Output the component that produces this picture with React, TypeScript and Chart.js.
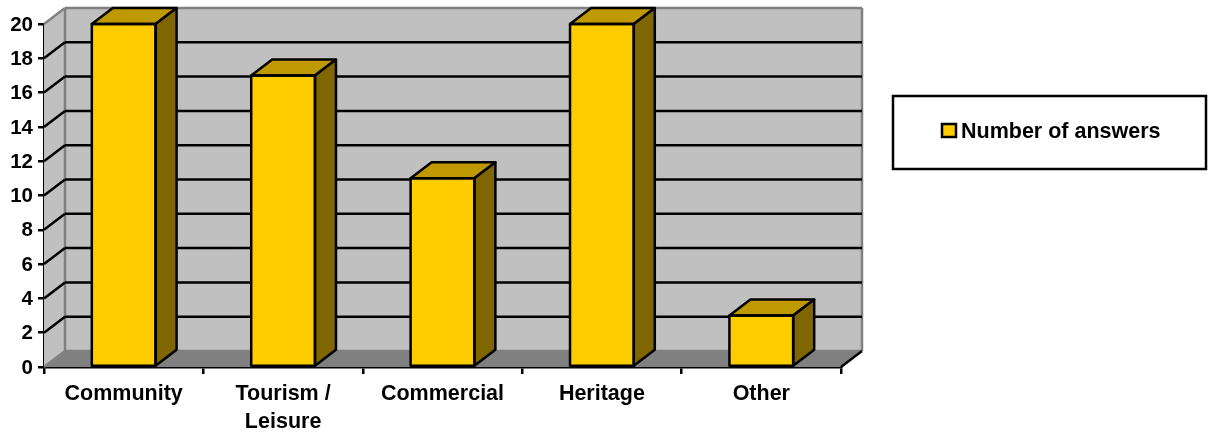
import React, { useEffect, useRef } from "react";
import { Chart, registerables } from "chart.js";

Chart.register(...registerables);

const categories = ["Community", ["Tourism /", "Leisure"], "Commercial", "Heritage", "Other"];
const seriesName = "Number of answers";
const answers = [20, 17, 11, 20, 3];
const yTicks = [0, 2, 4, 6, 8, 10, 12, 14, 16, 18, 20];

const DX = 21;
const DY = -16;
const FONT = "'Liberation Sans', Arial, sans-serif";
const FRONT = "#FFCC00";
const TOP = "#BF9900";
const SIDE = "#806600";
const WALL = "#C0C0C0";
const FLOOR = "#808080";
const EDGE = "#808080";
const INK = "#000000";
const LW = 2.5;

function poly(ctx: CanvasRenderingContext2D, pts: number[][], fill: string | null, stroke: string | null, lw = LW) {
  ctx.beginPath();
  pts.forEach(([x, y], i) => (i ? ctx.lineTo(x, y) : ctx.moveTo(x, y)));
  ctx.closePath();
  if (fill) { ctx.fillStyle = fill; ctx.fill(); }
  if (stroke) { ctx.strokeStyle = stroke; ctx.lineWidth = lw; ctx.lineJoin = "round"; ctx.stroke(); }
}
function seg(ctx: CanvasRenderingContext2D, x1: number, y1: number, x2: number, y2: number, c: string, lw = LW) {
  ctx.beginPath();
  ctx.moveTo(x1, y1);
  ctx.lineTo(x2, y2);
  ctx.strokeStyle = c;
  ctx.lineWidth = lw;
  ctx.stroke();
}

const walls3d = {
  id: "walls3d",
  beforeDatasetsDraw(chart: any) {
    const { ctx, chartArea: a, scales } = chart;
    const y = scales.y;
    const L = a.left, R = a.right, T = y.getPixelForValue(20), B = y.getPixelForValue(0);
    ctx.save();
    poly(ctx, [[L + DX, T + DY], [R + DX, T + DY], [R + DX, B + DY], [L + DX, B + DY]], WALL, null);
    poly(ctx, [[L, T], [L + DX, T + DY], [L + DX, B + DY], [L, B]], WALL, null);
    poly(ctx, [[L, B], [R, B], [R + DX, B + DY], [L + DX, B + DY]], FLOOR, null);
    seg(ctx, L + DX, T + DY, R + DX, T + DY, EDGE);
    seg(ctx, R + DX, T + DY, R + DX, B + DY, EDGE);
    seg(ctx, L + DX, T + DY, L + DX, B + DY, EDGE);
    seg(ctx, L + DX, B + DY, R + DX, B + DY, EDGE);
    seg(ctx, L, T, L + DX, T + DY, EDGE);
    seg(ctx, L, B, L + DX, B + DY, EDGE);
    yTicks.slice(1, -1).forEach((v) => {
      const p = y.getPixelForValue(v);
      seg(ctx, L, p, L + DX, p + DY, INK);
      seg(ctx, L + DX, p + DY, R + DX, p + DY, INK);
    });
    seg(ctx, R, B, R + DX, B + DY, INK);
    ctx.restore();
  },
  afterDatasetsDraw(chart: any) {
    const { ctx } = chart;
    const meta = chart.getDatasetMeta(0);
    ctx.save();
    meta.data.forEach((bar: any) => {
      const l = bar.x - bar.width / 2, r = bar.x + bar.width / 2, t = bar.y, b = bar.base;
      poly(ctx, [[l, t], [r, t], [r + DX, t + DY], [l + DX, t + DY]], TOP, INK);
      poly(ctx, [[r, t], [r + DX, t + DY], [r + DX, b + DY], [r, b]], SIDE, INK);
      poly(ctx, [[l, t], [r, t], [r, b], [l, b]], null, INK);
    });
    ctx.restore();
  },
  afterDraw(chart: any) {
    const { ctx } = chart;
    ctx.save();
    ctx.fillStyle = "#FFFFFF";
    ctx.strokeStyle = INK;
    ctx.lineWidth = LW;
    ctx.fillRect(893, 96, 313, 73);
    ctx.strokeRect(893, 96, 313, 73);
    ctx.fillStyle = FRONT;
    ctx.fillRect(942, 124, 14, 13);
    ctx.strokeRect(942, 124, 14, 13);
    ctx.fillStyle = INK;
    ctx.font = `bold 21.5px ${FONT}`;
    ctx.textBaseline = "middle";
    ctx.textAlign = "left";
    ctx.fillText(chart.data.datasets[0].label, 961, 132);
    ctx.restore();
  },
};

export default function App() {
  const ref = useRef<HTMLCanvasElement>(null);
  useEffect(() => {
    const chart = new Chart(ref.current!, {
      type: "bar",
      data: {
        labels: categories as any,
        datasets: [
          {
            label: seriesName,
            data: answers,
            backgroundColor: FRONT,
            borderWidth: 0,
            barPercentage: 0.4,
            categoryPercentage: 1,
            clip: false as any,
          },
        ],
      },
      options: {
        animation: false,
        responsive: false,
        layout: { padding: { top: 24, right: 371, left: 0, bottom: 0 } },
        plugins: { legend: { display: false }, title: { display: false }, tooltip: { enabled: false } },
        scales: {
          x: {
            offset: true,
            grid: { drawOnChartArea: false, drawTicks: true, tickLength: 7, color: INK, lineWidth: LW, offset: true },
            border: { color: INK, width: LW },
            ticks: {
              color: INK,
              padding: 6,
              maxRotation: 0,
              autoSkip: false,
              font: { family: FONT, size: 21.5, weight: "bold", lineHeight: 1.3 },
            },
            afterFit: (s: any) => { s.height = 67; },
          },
          y: {
            min: 0,
            max: 20,
            afterBuildTicks: (s: any) => { s.ticks = yTicks.map((value) => ({ value })); },
            grid: { drawOnChartArea: false, drawTicks: true, tickLength: 6, color: INK, lineWidth: LW },
            border: { color: INK, width: LW },
            ticks: {
              color: INK,
              padding: 5,
              labelOffset: 1,
              font: { family: FONT, size: 20.5, weight: "bold" },
            },
            afterFit: (s: any) => { s.width = 44; },
          },
        },
      },
      plugins: [walls3d],
    } as any);
    return () => chart.destroy();
  }, []);
  return (
    <div style={{ position: "absolute", left: 0, top: 0, width: 1212, height: 434 }}>
      <canvas ref={ref} width={1212} height={434} style={{ display: "block", width: 1212, height: 434 }} />
    </div>
  );
}
